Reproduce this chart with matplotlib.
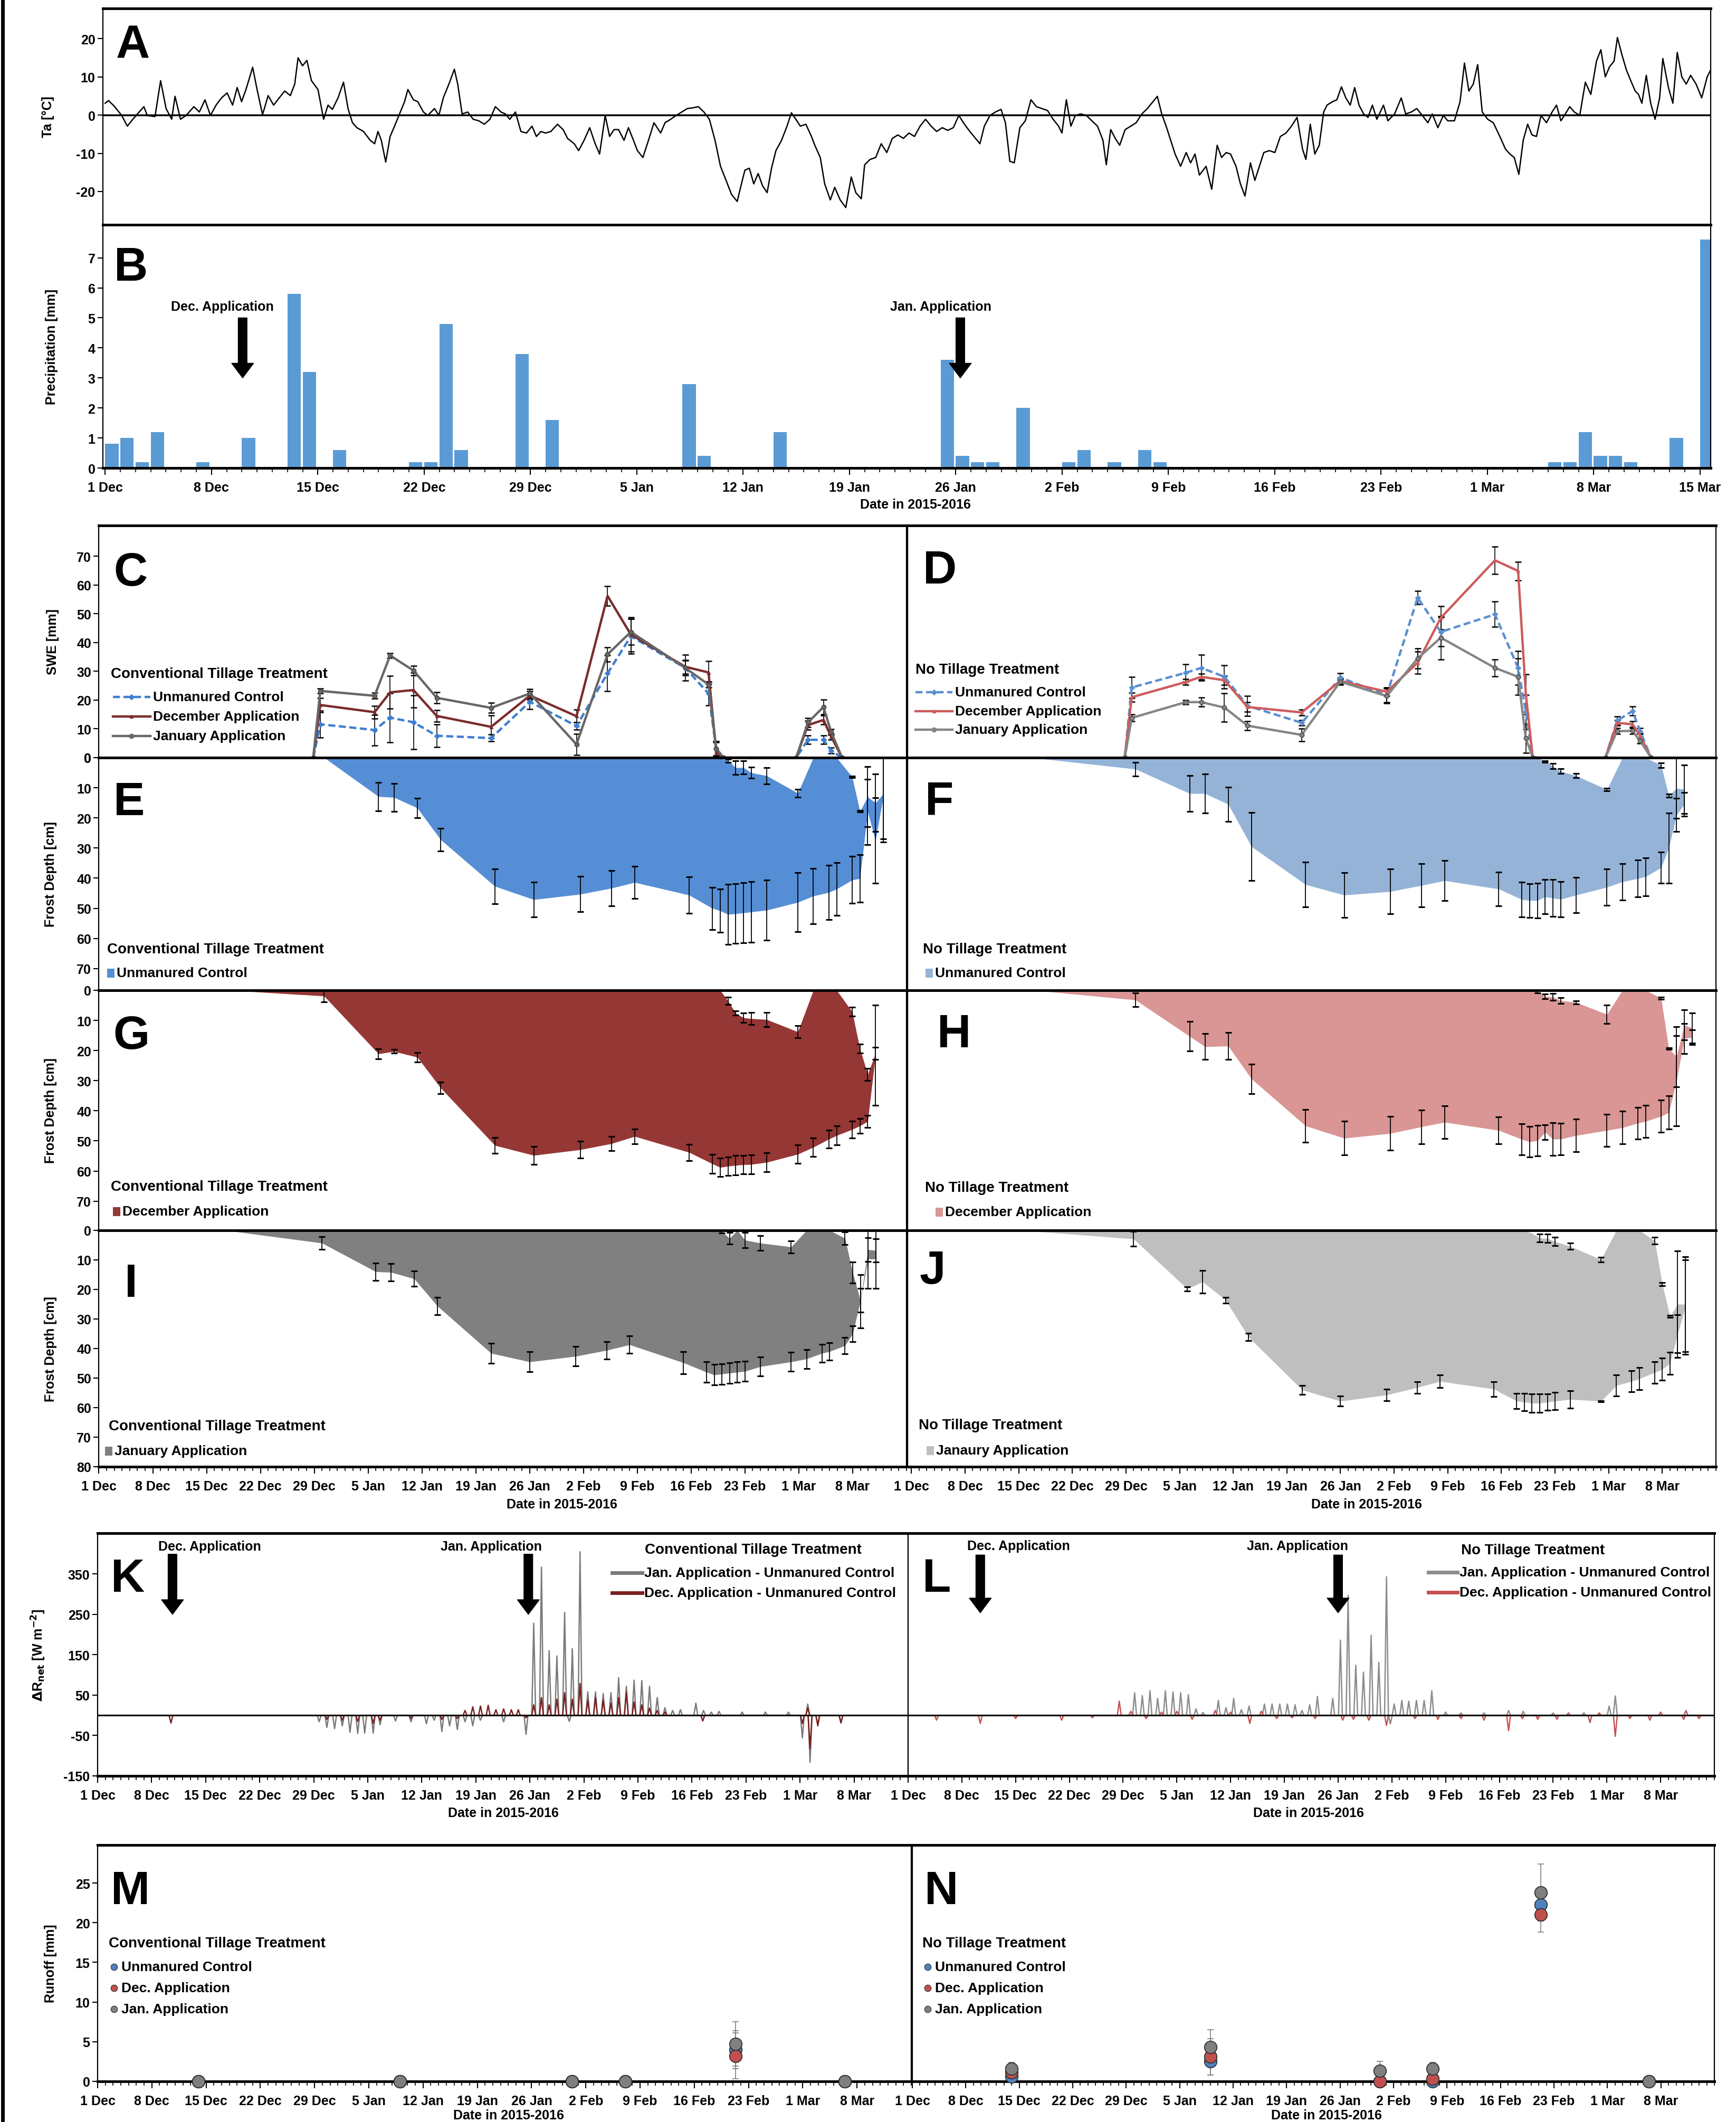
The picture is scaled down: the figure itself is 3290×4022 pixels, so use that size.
import numpy as np
import matplotlib
matplotlib.use("Agg")
import matplotlib.pyplot as plt
from matplotlib.lines import Line2D
from matplotlib.patches import Rectangle

W, H = 3291, 4023
plt.rcParams['font.family'] = ['Liberation Sans', 'DejaVu Sans']
plt.rcParams['font.weight'] = 'bold'
plt.rcParams['axes.labelweight'] = 'bold'
plt.rcParams['mathtext.default'] = 'bf'
plt.rcParams['axes.unicode_minus'] = False

# ---------------- data ----------------
# A: air temperature (days since 1 Dec 2015)
ta_day = [0.00, 0.22, 0.58, 1.09, 1.46, 1.82, 2.19, 2.55, 2.77, 3.28, 3.65, 4.01, 4.38, 4.60, 4.96, 5.33, 5.84, 6.20, 6.57, 6.93,
          7.30, 7.66, 8.03, 8.39, 8.69, 8.98, 9.27, 9.71, 10.00, 10.36, 10.73, 11.09, 11.46, 11.82, 12.19, 12.48, 12.70, 12.99, 13.28, 13.58,
          14.01, 14.38, 14.67, 14.96, 15.33, 15.69, 15.99, 16.28, 16.57, 17.01, 17.45, 17.74, 17.96, 18.18, 18.47, 18.76, 19.05, 19.34, 19.71, 19.93,
          20.29, 20.58, 20.95, 21.24, 21.68, 21.97, 22.26, 22.63, 22.99, 23.21, 23.50, 23.87, 24.23, 24.60, 24.96, 25.33, 25.69, 26.06, 26.35, 26.64,
          27.01, 27.37, 27.74, 28.10, 28.39, 28.69, 28.98, 29.34, 29.78, 30.15, 30.44, 30.88, 31.17, 31.53, 31.90, 32.26, 32.55, 32.92, 33.21, 33.50,
          33.80, 34.16, 34.45, 34.82, 35.04, 35.40, 35.77, 36.13, 36.57, 36.86, 37.23, 37.59, 37.96, 38.32, 38.69, 39.05, 39.42, 39.78, 40.15, 40.51,
          40.88, 41.24, 41.61, 41.97, 42.12, 42.41, 42.70, 42.99, 43.28, 43.58, 43.87, 44.16, 44.53, 44.89, 45.18, 45.47, 45.77, 46.13, 46.50, 46.72,
          47.08, 47.37, 47.74, 48.03, 48.39, 48.76, 49.12, 49.42, 49.78, 50.00, 50.36, 50.73, 51.09, 51.46, 51.82, 52.19, 52.55, 52.92, 53.28, 53.65,
          54.01, 54.38, 54.74, 55.11, 55.47, 55.84, 56.20, 56.57, 56.93, 57.30, 57.59, 57.88, 58.25, 58.61, 58.98, 59.27, 59.56, 59.85, 60.22, 60.58,
          60.95, 61.31, 61.68, 62.04, 62.41, 62.77, 62.99, 63.28, 63.58, 63.87, 64.23, 64.60, 64.96, 65.33, 65.69, 65.91, 66.20, 66.50, 66.79, 67.15,
          67.52, 67.88, 68.25, 68.61, 68.98, 69.27, 69.56, 69.85, 70.15, 70.44, 70.80, 71.17, 71.46, 71.75, 72.04, 72.48, 72.85, 73.21, 73.50, 73.80,
          74.09, 74.45, 74.74, 75.04, 75.40, 75.69, 75.99, 76.28, 76.64, 77.01, 77.37, 77.74, 78.10, 78.47, 78.83, 79.05, 79.34, 79.64, 79.93, 80.22,
          80.44, 80.80, 81.09, 81.39, 81.68, 81.97, 82.26, 82.55, 82.85, 83.14, 83.43, 83.72, 84.16, 84.45, 84.89, 85.33, 85.62, 85.99, 86.35, 86.72,
          87.08, 87.37, 87.74, 88.10, 88.39, 88.83, 89.20, 89.49, 89.78, 90.07, 90.36, 90.66, 91.02, 91.39, 91.82, 92.19, 92.48, 92.77, 93.07, 93.36,
          93.65, 93.94, 94.23, 94.53, 94.89, 95.26, 95.55, 95.84, 96.13, 96.42, 96.72, 97.08, 97.45, 97.81, 98.18, 98.47, 98.76, 99.05, 99.34, 99.56,
          99.85, 100.15, 100.44, 100.73, 100.95, 101.17, 101.46, 101.75, 102.04, 102.34, 102.55, 102.92, 103.21, 103.50, 103.80, 104.09, 104.38, 104.74, 105.11, 105.47,
          105.84]
ta_val = [3.1, 3.8, 2.4, -0.1, -2.9, -1.1, 0.6, 2.2, -0.1, -0.4, 9.0, 1.7, -1.1, 4.9, -1.1, -0.1, 2.2, 0.8, 4.0, -0.1,
          2.6, 4.5, 5.8, 2.6, 7.2, 3.5, 6.7, 12.5, 6.7, 0.1, 5.1, 2.6, 4.5, 6.3, 5.1, 8.1, 15.0, 12.9, 14.3, 9.0,
          6.7, -1.1, 2.6, 1.5, 4.5, 8.6, 1.7, -2.0, -3.3, -4.3, -6.6, -7.5, -4.3, -6.6, -12.3, -5.6, -2.9, -0.1, 3.5, 6.7,
          4.0, 3.5, 0.8, -0.1, 1.7, -0.1, 4.5, 8.1, 12.0, 8.1, 0.3, 0.8, -1.1, -1.5, -2.4, -1.1, 2.2, 0.8, 0.3, -1.1,
          0.8, -4.3, -4.7, -2.9, -5.6, -4.3, -4.7, -4.3, -2.4, -3.8, -6.1, -7.5, -9.3, -6.6, -3.3, -7.5, -10.2, -0.1, -5.6, -3.8,
          -3.8, -6.6, -3.3, -7.0, -9.3, -11.1, -6.6, -2.0, -4.7, -2.0, -1.1, -0.1, 0.8, 1.7, 1.9, 2.2, 0.8, -1.1, -6.6, -13.4,
          -17.1, -20.8, -22.6, -16.7, -14.4, -13.9, -18.0, -15.3, -18.5, -20.3, -13.9, -9.3, -6.6, -2.9, 0.6, -1.1, -2.9, -2.4, -5.6, -7.9,
          -11.1, -18.0, -22.2, -18.9, -22.2, -24.2, -16.2, -20.3, -21.9, -13.0, -11.6, -11.1, -7.5, -9.8, -6.1, -5.2, -6.1, -4.7, -5.6, -2.9,
          -1.1, -2.9, -4.3, -3.3, -4.0, -3.3, -0.1, -2.4, -4.3, -6.1, -7.5, -2.9, -0.1, 0.8, 1.5, -2.0, -12.1, -12.5, -3.3, -1.5,
          4.0, 2.2, 1.7, 1.2, -1.1, -2.9, -4.7, 4.0, -2.9, -0.1, 0.3, -0.1, -1.5, -2.9, -6.6, -13.0, -3.8, -6.1, -7.9, -3.8,
          -2.9, -2.0, 0.3, 1.7, 3.5, 4.9, 0.3, -2.9, -6.6, -10.2, -13.4, -9.8, -12.5, -10.2, -15.7, -13.4, -19.4, -7.9, -11.1, -9.8,
          -10.2, -13.4, -18.0, -21.2, -12.5, -17.1, -13.4, -9.8, -9.3, -9.8, -5.6, -4.7, -2.9, -0.6, -8.9, -11.6, -2.4, -10.2, -7.9, 0.8,
          2.6, 3.5, 4.0, 7.4, 4.5, 2.6, 7.2, 2.6, 0.3, -0.6, 2.6, -1.1, 2.6, -1.5, 0.3, 4.5, 0.3, 0.8, 1.7, -0.1,
          -2.0, 0.3, -3.3, -0.1, -1.5, -1.5, 3.5, 13.6, 6.3, 8.1, 13.2, 0.8, -1.1, -2.0, -5.6, -8.9, -10.2, -11.1, -15.5, -6.6,
          -2.4, -5.2, -5.6, -0.1, -2.0, 0.8, 2.6, -1.5, 0.3, 2.2, 0.8, -0.1, 8.6, 5.4, 14.1, 17.1, 10.0, 12.7, 14.1, 20.3,
          15.9, 11.8, 9.0, 6.3, 5.4, 3.1, 10.4, 3.1, -1.1, 4.5, 14.8, 7.2, 3.1, 16.4, 10.0, 8.1, 10.4, 8.1, 4.5, 10.0,
          12.9]

# B: daily precipitation
pr_day = [0, 1, 2, 3, 6, 9, 12, 13, 15, 20, 21, 22, 23, 27, 29, 38, 39, 44, 55, 56, 57, 58, 60, 63, 64, 66, 68, 69,
          95, 96, 97, 98, 99, 100, 103, 105]
pr_mm = [0.8, 1.0, 0.2, 1.2, 0.2, 1.0, 5.8, 3.2, 0.6, 0.2, 0.2, 4.8, 0.6, 3.8, 1.6, 2.8, 0.4, 1.2, 3.6, 0.4, 0.2, 0.2, 2.0, 0.2, 0.6, 0.2, 0.6, 0.2,
         0.2, 0.2, 1.2, 0.4, 0.4, 0.2, 1.0, 7.6]

# C, D: snow water equivalent
swe_days = [27.6, 28.5, 35.5, 37.5, 40.5, 43.5, 50.5, 55.5, 61.5, 65.5, 68.5, 75.5, 78.5, 79.5, 80.4, 89.8, 91.3, 93.3, 94.3, 95.7]
ct_uc = [0, 11.6, 9.6, 13.9, 12.3, 7.6, 6.8, 19.4, 11.0, 29.3, 42.2, 31.2, 22.3, 3.1, 0, 0, 6.2, 6.2, 2.4, 0]
ct_dec = [0, 18.3, 15.8, 22.7, 23.5, 14.5, 10.7, 21.6, 14.4, 56.2, 42.8, 31.6, 29.6, 1.8, 0, 0, 11.3, 13.1, 7.3, 0]
ct_jan = [0, 23.2, 21.5, 35.5, 30.3, 20.8, 17.3, 22.3, 4.6, 35.9, 43.7, 31.2, 25.4, 3.2, 0, 0, 12.2, 17.6, 8.9, 0]
ct_uc_err = [0, 4.7, 5.3, 8.5, 9.3, 4.0, 1.2, 2.5, 1.2, 6.2, 6.0, 2.5, 4.2, 2.5, 0, 0, 1.5, 1.5, 1.0, 0]
ct_dec_err = [0, 2.5, 2.2, 5.7, 6.0, 2.0, 4.0, 1.5, 2.2, 3.4, 6.0, 2.4, 3.9, 3.5, 0, 0, 1.5, 1.5, 1.0, 0]
ct_jan_err = [0, 0.9, 1.0, 0.8, 1.6, 2.0, 1.7, 1.6, 3.7, 2.5, 4.5, 4.5, 1.0, 2.5, 0, 0, 1.5, 2.5, 1.0, 0]
nt_uc = [0, 24.4, 29.5, 31.2, 28.1, 18.0, 12.1, 27.8, 21.7, 55.6, 43.7, 49.8, 31.2, 15.9, 0, 0, 12.8, 16.2, 9.2, 0]
nt_dec = [0, 21.0, 26.3, 28.1, 26.9, 17.6, 15.7, 26.7, 22.9, 33.0, 48.6, 68.6, 64.9, 22.0, 0, 0, 12.1, 11.6, 7.6, 0]
nt_jan = [0, 13.8, 19.3, 19.3, 17.4, 11.1, 7.9, 26.4, 21.4, 34.5, 41.7, 31.2, 28.1, 6.7, 0, 0, 9.2, 9.3, 5.8, 0]
nt_uc_err = [0, 3.7, 3.0, 4.5, 4.0, 3.5, 1.0, 1.5, 2.5, 2.3, 5.0, 4.4, 5.8, 6.0, 0, 0, 1.5, 1.5, 1.0, 0]
nt_dec_err = [0, 1.5, 1.0, 1.0, 1.5, 1.6, 1.0, 1.0, 1.5, 3.8, 4.0, 4.7, 3.2, 7.0, 0, 0, 1.0, 1.0, 0.8, 0]
nt_jan_err = [0, 1.2, 0.7, 1.6, 5.0, 1.5, 2.2, 1.0, 2.6, 3.5, 7.5, 3.0, 6.3, 5.0, 0, 0, 1.0, 1.0, 0.8, 0]

# E-J: frost depth (lower = frost front, upper = thawed surface layer)
nan = np.nan
fd_days = [29, 36, 38, 41, 44, 51, 56, 62, 66, 69, 76, 79, 80, 81, 82, 83, 84, 86, 90, 92, 94, 95, 97, 98, 99, 100, 101]
e_start, f_start, g_start, h_start, i_start, j_start = 28.9, 15.5, 16.8, 15.8, 16.5, 14.4
e_low = [0, 12.9, 13.2, 16.7, 27.2, 42.7, 47.1, 45.3, 43.3, 41.4, 45.6, 50.0, 50.8, 52.0, 51.8, 51.5, 51.2, 50.6, 48.0, 45.9, 44.7, 43.6, 40.6, 40.1, 18.0, 27.5, 13.0]
e_up = [0] * 13 + [1.0, 3.3, 3.3, 5.0, 6.0, 11.8, 0, 0, 0, 6.4, 17.8, 13.0, 15.0, 12.0]
e_low_err = [0, 4.7, 4.7, 3.3, 3.7, 5.8, 5.8, 5.9, 5.9, 5.4, 6.1, 7.0, 7.2, 9.9, 9.9, 10.0, 10.0, 9.9, 9.8, 9.2, 9.0, 8.7, 7.8, 7.9, 10.8, 14.2, 15.0]
e_up_err = [0] * 13 + [0.5, 2.3, 2.2, 1.9, 2.7, 1.3, 0, 0, 0, 0.3, 0.3, 10.0, 9.5, 15.0]
f_low = [3.8, 11.9, 11.9, 15.5, 29.5, 42.1, 45.6, 44.4, 42.4, 40.8, 43.6, 47.1, 47.4, 47.4, 46.2, 46.6, 47.0, 45.6, 43.0, 41.2, 40.1, 39.5, 36.5, 30.0, 19.0, 15.5, nan]
f_up = [0] * 14 + [1.3, 2.8, 4.5, 6.0, 10.6, 0, 0, 0, 2.5, 12.6, 10.2, 10.5, nan]
f_low_err = [2.3, 6.0, 6.5, 5.7, 11.3, 7.5, 7.4, 7.4, 7.2, 6.6, 5.6, 5.8, 5.6, 5.8, 5.7, 6.1, 5.8, 5.8, 6.1, 6.1, 6.1, 6.3, 5.1, 11.6, 5.5, 3.9, nan]
f_up_err = [0] * 14 + [0.3, 0.8, 0.8, 0.7, 0.5, 0, 0, 0, 0.8, 0.5, 10.0, 8.0, nan]
g_low = [1.9, 21.1, 20.3, 22.2, 32.4, 51.5, 54.8, 52.9, 50.9, 48.5, 53.8, 57.6, 58.8, 58.4, 58.1, 57.9, 57.8, 57.1, 54.4, 52.1, 49.4, 48.2, 46.2, 45.0, 43.5, 21.5, nan]
g_up = [0] * 13 + [3.5, 7.6, 9.1, 9.4, 9.7, 13.8, 0, 0, 0, 7.1, 19.4, 27.9, 21.0, nan]
g_low_err = [2.0, 1.6, 0.6, 1.6, 1.9, 2.6, 3.0, 2.8, 2.4, 2.4, 2.7, 3.1, 3.1, 3.1, 3.2, 3.1, 3.1, 3.2, 3.1, 3.1, 3.0, 3.1, 2.8, 2.5, 2.0, 16.6, nan]
g_up_err = [0] * 13 + [1.3, 0.7, 1.5, 2.0, 2.4, 2.0, 0, 0, 0, 1.5, 1.5, 2.0, 2.0, nan]
h_low = [3.2, 15.3, 18.7, 18.5, 29.4, 45.0, 49.1, 47.5, 45.3, 43.8, 46.5, 49.5, 50.3, 49.9, 47.1, 49.4, 49.4, 48.2, 46.5, 45.6, 44.1, 43.5, 41.8, 40.6, 30.0, 16.0, 15.6]
h_up = [0] * 13 + [0.5, 2.0, 2.2, 3.4, 4.0, 8.0, 0, 0, 0, 2.6, 19.4, 22.0, 11.5, 12.5]
h_low_err = [2.3, 4.9, 4.3, 4.4, 4.9, 5.4, 5.6, 5.6, 5.6, 5.4, 4.5, 5.1, 5.1, 5.1, 2.4, 5.4, 5.3, 5.4, 5.4, 5.4, 5.3, 5.3, 5.3, 5.5, 15.0, 5.0, 2.5]
h_up_err = [0] * 13 + [0.3, 0.8, 1.1, 1.0, 0.5, 3.1, 0, 0, 0, 0.3, 0.3, 10.0, 5.0, 5.0]
i_low = [4.3, 14.0, 14.2, 16.4, 25.6, 41.6, 44.5, 42.6, 40.6, 38.7, 44.8, 48.0, 48.9, 48.6, 48.3, 48.0, 47.7, 46.1, 44.5, 43.5, 41.6, 41.0, 39.0, 35.0, 24.0, 9.7, 9.7]
i_up = [0] * 13 + [0.4, 2.7, 0, 3.3, 4.3, 5.6, 0, 0, 0, 2.7, 14.3, 23.7, 6.5, 6.8]
i_low_err = [2.2, 3.0, 3.0, 2.6, 3.0, 3.4, 3.4, 3.3, 3.0, 2.9, 3.7, 3.5, 3.5, 3.5, 3.5, 3.5, 3.4, 3.2, 3.2, 3.2, 3.0, 3.0, 2.7, 2.7, 9.0, 10.0, 10.0]
i_up_err = [0] * 13 + [0.5, 1.9, 0, 2.6, 2.5, 2.1, 0, 0, 0, 2.2, 3.5, 4.0, 4.0, 4.0]
j_low = [2.9, 19.8, 17.4, 23.6, 36.1, 54.0, 57.8, 55.7, 53.2, 51.1, 53.7, 57.8, 58.1, 58.5, 58.5, 58.1, 57.8, 57.2, 57.8, 52.5, 51.1, 50.2, 48.1, 47.0, 45.0, 35.0, 26.0]
j_up = [0] * 13 + [1.0, 2.6, 2.7, 3.8, 5.4, 9.9, 0, 0, 0, 3.5, 18.2, 29.1, 25.0, 25.0]
j_low_err = [2.5, 0.7, 3.9, 1.0, 1.2, 1.5, 1.7, 1.9, 2.0, 2.2, 2.5, 2.6, 2.9, 3.1, 3.1, 2.8, 2.9, 2.9, 0.2, 3.6, 3.6, 3.7, 3.7, 3.8, 3.8, 6.5, 16.0]
j_up_err = [0] * 13 + [0, 1.3, 1.4, 1.4, 1.1, 0.8, 0, 0, 0, 1.2, 0.5, 0.3, 18.0, 16.0]

# K, L: daily peaks of net radiation difference
k_jan_d = [28.7, 29.7, 30.7, 31.7, 32.7, 33.7, 34.6, 35.7, 36.6, 38.6, 40.6, 42.6, 43.6, 44.6, 45.6, 46.6, 47.6, 48.6, 49.6,
           52.6, 55.5, 56.5, 57.5, 58.5, 59.5, 60.5, 61.1, 61.5, 62.5, 63.5, 64.5, 65.5, 66.5, 67.5, 68.5, 69.5, 70.5, 71.5,
           72.5, 73.5, 74.5, 75.5, 77.5, 78.5, 79.5, 80.5, 83.5, 86.5, 89.5, 91.3, 92.0, 92.3, 93.3, 96.3]
k_jan_v = [-16, -30, -33, -26, -42, -45, -44, -44, -23, -14, -16, -21, -12, -40, -26, -35, -16, -26, -12,
           -16, -47, 228, 367, 160, 147, 255, -15, 165, 405, 58, 58, 54, 56, 93, 72, 87, 86, 72,
           44, 19, 12, 14, 30, 12, 8, 10, 8, 8, 8, -56, 28, -116, -21, -16]
k_dec_d = [9.5, 29.7, 31.7, 33.7, 35.7, 36.6, 40.6, 44.6, 46.6, 47.6, 48.6, 49.6, 50.6, 51.6, 52.6, 53.6, 54.5, 55.5,
           56.5, 57.5, 58.5, 59.5, 60.5, 61.5, 62.5, 63.5, 64.5, 65.5, 66.5, 67.5, 68.5, 69.5, 70.5, 71.5, 72.5, 73.5,
           78.4, 91.3, 92.0, 92.3, 93.3, 96.3]
k_dec_v = [-19, -10, -12, -15, -20, -12, -8, -10, -8, 12, 21, 23, 25, 14, 16, 14, 14, -6,
           26, 44, 26, 40, 56, 40, 79, 37, 44, 37, 30, 44, 58, 33, 26, 18, 12, 8,
           -14, -20, 18, -82, -26, -19]
l_jan_d = [29.5, 30.5, 31.5, 32.5, 33.5, 34.5, 35.5, 36.5, 37.5, 38.4, 40.4, 41.4, 42.4, 43.4, 44.4, 46.4, 47.4, 48.4,
           49.4, 50.4, 51.3, 52.3, 53.3, 55.3, 56.3, 57.3, 58.3, 59.3, 60.3, 61.3, 62.3, 62.8, 63.3, 64.3, 65.2, 66.2,
           67.2, 68.2, 70.0, 72.0, 75.0, 78.2, 80.1, 84.0, 88.0, 91.3, 92.1]
l_jan_v = [56, 49, 61, 42, 61, 58, 56, 51, 16, 7, 37, 19, 42, 14, 23, 28, 28, 28,
           28, 26, 12, 26, 47, 42, 186, 297, 124, 107, 198, 131, 343, -21, 28, 37, 35, 37,
           37, 61, 8, 6, 6, 12, 10, 6, 6, 23, 48]
l_dec_d = [3.7, 9.4, 14.0, 20.0, 24.0, 27.5, 29.0, 31.0, 33.0, 35.0, 37.0, 40.0, 42.0, 44.5, 46.0, 48.0, 50.0, 53.0,
           56.6, 58.0, 60.0, 62.3, 66.0, 69.0, 72.0, 75.0, 78.2, 80.0, 82.0, 84.5, 86.0, 88.8, 90.0, 92.1, 94.0, 96.6,
           98.0, 101.0, 101.3, 103.0]
l_dec_v = [-12, -20, -8, -12, -6, 35, 10, -8, 8, 10, -10, 12, 8, -20, 10, -8, -6, -8,
           -12, -10, -12, -25, -8, -10, -8, -12, -38, -8, -10, -10, 6, -18, 6, -52, -8, -12,
           8, -10, 12, -8]

# M, N: runoff
ro_days = [13.0, 39.0, 61.2, 68.1, 82.3, 96.4]
m_uc = [0, 0, 0, 0, 4.0, 0]
m_dec = [0, 0, 0, 0, 3.2, 0]
m_jan = [0, 0, 0, 0, 4.7, 0]
m_uc_err = [0, 0, 0, 0, 2.4, 0]
m_dec_err = [0, 0, 0, 0, 2.9, 0]
m_jan_err = [0, 0, 0, 0, 2.8, 0]
n_uc = [0.6, 2.5, 0, 0, 22.3, 0]
n_dec = [1.1, 3.1, 0, 0.3, 21.0, 0]
n_jan = [1.6, 4.3, 1.3, 1.6, 23.8, 0]
n_uc_err = [0.5, 1.7, 0, 0, 2.0, 0]
n_dec_err = [0.6, 2.3, 0, 0.3, 2.2, 0]
n_jan_err = [0.8, 2.2, 1.2, 0.8, 3.6, 0]

week_pos = list(range(0, 99, 7))
week_lab = ['1 Dec', '8 Dec', '15 Dec', '22 Dec', '29 Dec', '5 Jan', '12 Jan', '19 Jan', '26 Jan',
            '2 Feb', '9 Feb', '16 Feb', '23 Feb', '1 Mar', '8 Mar']

# ---------------- helpers ----------------
fig = plt.figure(figsize=(W / 100, H / 100), dpi=100)


def panel(l, t, r, b):
    ax = fig.add_axes([l / W, 1 - b / H, (r - l) / W, (b - t) / H])
    for s in ('top', 'bottom'):
        ax.spines[s].set_linewidth(3.6)
    for s in ('left', 'right'):
        ax.spines[s].set_linewidth(1.6)
    ax.tick_params(labelsize=18, width=1.5, length=7)
    ax.set_xticks([])
    return ax


def ylab(ax, s, xfull):
    l = ax.get_position().x0 * W
    w = ax.get_position().width * W
    ax.set_ylabel(s, fontsize=18)
    ax.yaxis.set_label_coords((xfull - l) / w, 0.5)


def date_axis(ax, xcenter, ylabel_full, extra=None):
    pos, lab = list(week_pos), list(week_lab)
    if extra:
        pos.append(extra[0])
        lab.append(extra[1])
    ax.set_xticks(pos)
    ax.set_xticklabels(lab)
    ax.set_xticks(np.arange(0, 106), minor=True)
    ax.tick_params(axis='x', which='major', length=9, pad=9)
    ax.tick_params(axis='x', which='minor', length=6, width=1.2)
    ax.set_xlabel('Date in 2015-2016', fontsize=18, va='center')
    p = ax.get_position()
    ax.xaxis.set_label_coords((xcenter - p.x0 * W) / (p.width * W),
                              -(ylabel_full - (1 - p.y0) * H) / (p.height * H))


def ftext(x, y, s, size=19, ha='left', va='center'):
    fig.text(x / W, 1 - y / H, s, fontsize=size, ha=ha, va=va, fontweight='bold')


def fline(x0, x1, y, marker=None, **kw):
    fig.add_artist(Line2D([x0 / W, x1 / W], [1 - y / H] * 2, transform=fig.transFigure, **kw))
    if marker:
        fig.add_artist(Line2D([(x0 + x1) / 2 / W], [1 - y / H], transform=fig.transFigure,
                              marker=marker, ls='none', **{k: v for k, v in kw.items() if k.startswith('m') or k == 'color'}))


def fsquare(x, y, color, w=14, h=17):
    fig.add_artist(Rectangle((x / W, 1 - (y + h / 2) / H), w / W, h / H, transform=fig.transFigure,
                             color=color, lw=0))


def letter(x, y, s):
    fig.text(x / W, 1 - y / H, s, fontsize=64, fontweight='bold', ha='left', va='top')


def down_arrow(ax, x, y0, y1):
    ax.annotate('', xy=(x, y1), xytext=(x, y0),
                arrowprops=dict(facecolor='black', edgecolor='black', width=12, headwidth=30,
                                headlength=20, shrink=0))


# ---------------- A ----------------
axA = panel(195, 17, 3242, 427)
axA.plot(ta_day, ta_val, color='black', lw=1.8)
axA.axhline(0, color='black', lw=2.5)
axA.set_xlim(-0.15, 105.7)
axA.set_ylim(-28.7, 27.9)
axA.set_yticks([-20, -10, 0, 10, 20])
ylab(axA, 'Ta [°C]', 103)
letter(220, 45, 'A')

# ---------------- B ----------------
axB = panel(195, 427, 3242, 888)
axB.bar(pr_day, pr_mm, width=0.88, align='edge', color='#5B9BD5')
axB.set_xlim(-0.15, 105.7)
axB.set_ylim(0, 8.1)
axB.set_yticks(range(0, 8))
date_axis(axB, 1735, 957, extra=(105, '15 Mar'))
ylab(axB, 'Precipitation [mm]', 110)
axB.text(7.7, 5.38, 'Dec. Application', fontsize=18, ha='center', va='center')
down_arrow(axB, 9.05, 5.0, 3.0)
axB.text(55.0, 5.38, 'Jan. Application', fontsize=18, ha='center', va='center')
down_arrow(axB, 56.3, 5.0, 3.0)
letter(216, 467, 'B')

# ---------------- C, D ----------------
ct_cols = ['#3F7FD0', '#7B2C2C', '#676767']
nt_cols = ['#5B8FD0', '#CD5C5C', '#858585']
axC = panel(187.5, 997, 1718, 1437)
axD = panel(1720, 997, 3252, 1437)
for ax, series, cols in [(axC, [(ct_uc, ct_uc_err), (ct_dec, ct_dec_err), (ct_jan, ct_jan_err)], ct_cols),
                         (axD, [(nt_uc, nt_uc_err), (nt_dec, nt_dec_err), (nt_jan, nt_jan_err)], nt_cols)]:
    styles = [dict(ls=(0, (3, 1.5)), marker='D', ms=5), dict(ls='-', marker='^', ms=5), dict(ls='-', marker='o', ms=6, mec='#444444')]
    for (vals, err), col, st in zip(series, cols, styles):
        ax.errorbar(swe_days, vals, yerr=err, color=col, lw=3.2, ecolor='black', elinewidth=1.2,
                    capsize=4, capthick=1.8, **st)
    ax.set_ylim(0, 80.7)
axC.set_xlim(0, 104)
axD.set_xlim(-0.5, 104.1)
axC.set_yticks(range(0, 80, 10))
axD.set_yticks([])
ylab(axC, 'SWE [mm]', 112)
letter(215, 1045, 'C')
letter(1749, 1041, 'D')

ftext(210, 1278, 'Conventional Tillage Treatment', 20)
for y, lab, col, st in [(1322, 'Unmanured Control', ct_cols[0], dict(ls=(0, (3, 1.5)), marker='D', ms=5)),
                        (1359, 'December Application', ct_cols[1], dict(ls='-', marker='^', ms=5)),
                        (1396, 'January Application', ct_cols[2], dict(ls='-', marker='o', ms=6))]:
    fline(214, 285, y, color=col, lw=3.2, **st)
    ftext(290, y, lab)
ftext(1735, 1270, 'No Tillage Treatment', 20)
for y, lab, col, st in [(1313, 'Unmanured Control', nt_cols[0], dict(ls=(0, (3, 1.5)), marker='D', ms=5)),
                        (1349, 'December Application', nt_cols[1], dict(ls='-', marker='^', ms=5)),
                        (1384, 'January Application', nt_cols[2], dict(ls='-', marker='o', ms=6))]:
    fline(1735, 1805, y, color=col, lw=3.2, **st)
    ftext(1810, y, lab)


# ---------------- E - J ----------------
def frost(ax, start, low, up, low_err, up_err, color):
    x = [start] + fd_days
    ax.fill_between(x, [0] + up, [0] + low, color=color, lw=0)
    low, up = np.array(low, float), np.array(up, float)
    low_err, up_err = np.array(low_err, float), np.array(up_err, float)
    ok = ~np.isnan(low)
    d = np.array(fd_days, float)
    ax.errorbar(d[ok], low[ok], yerr=low_err[ok], fmt='none', ecolor='black', elinewidth=1.3,
                capsize=4, capthick=2.2)
    ok = (up_err > 0) & ~np.isnan(up_err)
    ax.errorbar(d[ok], up[ok], yerr=up_err[ok], fmt='none', ecolor='black', elinewidth=1.3,
                capsize=4, capthick=2.2)


axE = panel(187.5, 1437, 1718, 1878)
axF = panel(1720, 1437, 3252, 1878)
axG = panel(187.5, 1878, 1718, 2333)
axH = panel(1720, 1878, 3252, 2333)
axI = panel(187.5, 2333, 1718, 2781)
axJ = panel(1720, 2333, 3252, 2781)
frost(axE, e_start, e_low, e_up, e_low_err, e_up_err, '#558ED5')
frost(axF, f_start, f_low, f_up, f_low_err, f_up_err, '#95B3D7')
frost(axG, g_start, g_low, g_up, g_low_err, g_up_err, '#953735')
frost(axH, h_start, h_low, h_up, h_low_err, h_up_err, '#D99694')
frost(axI, i_start, i_low, i_up, i_low_err, i_up_err, '#808080')
frost(axJ, j_start, j_low, j_up, j_low_err, j_up_err, '#BFBFBF')
for ax, lim in [(axE, 77.2), (axF, 77.2), (axG, 79.7), (axH, 79.7), (axI, 80), (axJ, 80)]:
    ax.set_ylim(lim, 0)
for ax in (axE, axG, axI):
    ax.set_xlim(0, 104)
    ylab(ax, 'Frost Depth [cm]', 108)
for ax in (axF, axH, axJ):
    ax.set_xlim(-0.5, 104.1)
    ax.set_yticks([])
axE.set_yticks(range(0, 80, 10))
axG.set_yticks(range(0, 80, 10))
axI.set_yticks(range(0, 90, 10))
date_axis(axI, 1065, 2852)
date_axis(axJ, 2590, 2852)
for x, y, s in [(215, 1480, 'E'), (1753, 1480, 'F'), (214, 1923, 'G'), (1776, 1920, 'H'),
                (236, 2393, 'I'), (1743, 2368, 'J')]:
    letter(x, y, s)

for (tx, sx, ty, iy, title, lab, col) in [
        (203, 203, 1800, 1845, 'Conventional Tillage Treatment', 'Unmanured Control', '#558ED5'),
        (1749, 1754, 1800, 1845, 'No Tillage Treatment', 'Unmanured Control', '#95B3D7'),
        (210, 214, 2250, 2297, 'Conventional Tillage Treatment', 'December Application', '#953735'),
        (1753, 1773, 2252, 2298, 'No Tillage Treatment', 'December Application', '#D99694'),
        (206, 199, 2704, 2751, 'Conventional Tillage Treatment', 'January Application', '#808080'),
        (1741, 1756, 2702, 2750, 'No Tillage Treatment', 'Janaury Application', '#BFBFBF')]:
    ftext(tx, ty, title, 20)
    fsquare(sx, iy, col)
    ftext(sx + 18, iy, lab)


# ---------------- K, L ----------------
def spikes(days, vals, half=0.25):
    x, y = [0], [0]
    for d, v in zip(days, vals):
        x += [d - half, d, d + half]
        y += [0, v, 0]
    x.append(104)
    y.append(0)
    return x, y


axK = panel(185, 2907, 1721, 3367)
axL = panel(1721, 2907, 3249, 3367)
for ax, (jd, jv), (dd, dv), cj, cd in [(axK, (k_jan_d, k_jan_v), (k_dec_d, k_dec_v), '#7A7A7A', '#7B1F1F'),
                                        (axL, (l_jan_d, l_jan_v), (l_dec_d, l_dec_v), '#8C8C8C', '#C85050')]:
    ax.plot(*spikes(jd, jv), color=cj, lw=1.8)
    ax.plot(*spikes(dd, dv), color=cd, lw=1.8)
    ax.axhline(0, color='black', lw=2.2, zorder=5)
    ax.set_ylim(-150, 451)
axK.set_xlim(0, 104)
axL.set_xlim(0, 103.4)
axK.set_yticks([-150, -50, 50, 150, 250, 350])
axL.set_yticks([])
date_axis(axK, 954, 3437)
date_axis(axL, 2480, 3437)
ylab(axK, r'$\Delta$R$_{net}$ [W m$^{-2}$]', 89)
axK.text(14.5, 418, 'Dec. Application', fontsize=18, ha='center', va='center')
down_arrow(axK, 9.7, 399, 250)
axK.text(51.0, 418, 'Jan. Application', fontsize=18, ha='center', va='center')
down_arrow(axK, 55.8, 399, 250)
axL.text(14.4, 420, 'Dec. Application', fontsize=18, ha='center', va='center')
down_arrow(axL, 9.4, 397, 254)
axL.text(50.7, 420, 'Jan. Application', fontsize=18, ha='center', va='center')
down_arrow(axL, 56.0, 397, 254)
letter(210, 2952, 'K')
letter(1748, 2952, 'L')
ftext(1427, 2938, 'Conventional Tillage Treatment', 20, ha='center')
fline(1160, 1217, 2982, color='#7A7A7A', lw=5)
ftext(1221, 2982, 'Jan. Application - Unmanured Control')
fline(1160, 1217, 3020, color='#7B1F1F', lw=5)
ftext(1221, 3020, 'Dec. Application - Unmanured Control')
ftext(2905, 2939, 'No Tillage Treatment', 20, ha='center')
fline(2707, 2762, 2981, color='#8C8C8C', lw=5)
ftext(2766, 2981, 'Jan. Application - Unmanured Control')
fline(2707, 2762, 3019, color='#C85050', lw=5)
ftext(2766, 3019, 'Dec. Application - Unmanured Control')

# ---------------- M, N ----------------
ro_cols = ['#4F81BD', '#C0504D', '#7F7F7F']
axM = panel(185, 3498, 1727, 3946)
axN = panel(1729, 3498, 3249, 3946)
for ax, series in [(axM, [(m_uc, m_uc_err), (m_dec, m_dec_err), (m_jan, m_jan_err)]),
                   (axN, [(n_uc, n_uc_err), (n_dec, n_dec_err), (n_jan, n_jan_err)])]:
    for (vals, err), col in zip(series, ro_cols):
        ax.errorbar(ro_days, vals, yerr=err, fmt='o', ms=17, color=col, mec='#2b2b2b', mew=1.2,
                    ecolor='#7F7F7F', elinewidth=1.2, capsize=4, capthick=2, clip_on=False, zorder=4)
    ax.set_ylim(0, 29.8)
axM.set_xlim(0, 104.2)
axN.set_xlim(0, 101.8)
axM.set_yticks(range(0, 30, 5))
axN.set_yticks([])
date_axis(axM, 964, 4010)
date_axis(axN, 2514, 4010)
ylab(axM, 'Runoff [mm]', 108)
letter(210, 3544, 'M')
letter(1752, 3544, 'N')
for x0, title in [(206, 'Conventional Tillage Treatment'), (1748, 'No Tillage Treatment')]:
    ftext(x0, 3684, title, 20)
    for y, lab, col in [(3729, 'Unmanured Control', ro_cols[0]), (3769, 'Dec. Application', ro_cols[1]),
                        (3809, 'Jan. Application', ro_cols[2])]:
        fig.add_artist(Line2D([(x0 + 10) / W], [1 - y / H], transform=fig.transFigure, marker='o', ms=9,
                              color=col, mec='#2b2b2b', mew=0.8, ls='none'))
        ftext(x0 + 24, y, lab)

# left border of the figure
fig.add_artist(Line2D([5 / W, 5 / W], [0, 1], transform=fig.transFigure, color='black', lw=5))

fig.savefig('out.png', dpi=100, facecolor='white')
